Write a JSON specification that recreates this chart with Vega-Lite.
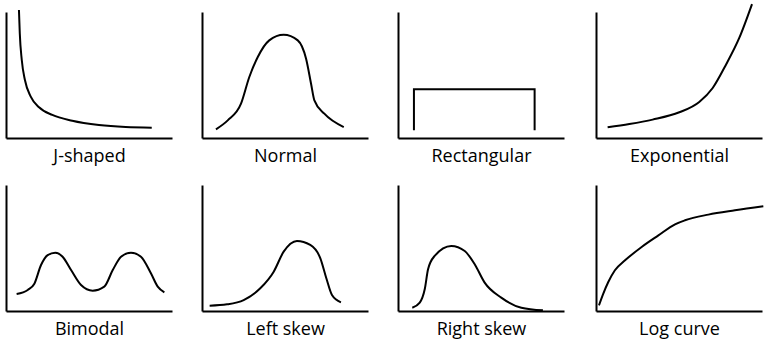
{
  "$schema": "https://vega.github.io/schema/vega-lite/v6.json",
  "padding": {"left": 6, "top": 0, "right": 0, "bottom": 6},
  "background": "white",
  "datasets": {
    "curves": [
      {"shape": "J-shaped", "i": 1, "x": 7.8, "y": 101.6},
      {"shape": "J-shaped", "i": 2, "x": 8.3, "y": 83.1},
      {"shape": "J-shaped", "i": 3, "x": 9.5, "y": 61.9},
      {"shape": "J-shaped", "i": 4, "x": 11.4, "y": 46},
      {"shape": "J-shaped", "i": 5, "x": 14.9, "y": 32.8},
      {"shape": "J-shaped", "i": 6, "x": 19.9, "y": 24.4},
      {"shape": "J-shaped", "i": 7, "x": 27.9, "y": 18.3},
      {"shape": "J-shaped", "i": 8, "x": 39.9, "y": 13.7},
      {"shape": "J-shaped", "i": 9, "x": 56, "y": 10.3},
      {"shape": "J-shaped", "i": 10, "x": 72.1, "y": 8.7},
      {"shape": "J-shaped", "i": 11, "x": 87.8, "y": 8.2},

      {"shape": "Normal", "i": 1, "x": 8.4, "y": 6.9},
      {"shape": "Normal", "i": 2, "x": 15.5, "y": 14},
      {"shape": "Normal", "i": 3, "x": 23.5, "y": 27.2},
      {"shape": "Normal", "i": 4, "x": 28.5, "y": 48.4},
      {"shape": "Normal", "i": 5, "x": 33.6, "y": 64.3},
      {"shape": "Normal", "i": 6, "x": 40.5, "y": 77.5},
      {"shape": "Normal", "i": 7, "x": 49.2, "y": 82},
      {"shape": "Normal", "i": 8, "x": 57.7, "y": 77.5},
      {"shape": "Normal", "i": 9, "x": 62.7, "y": 62.9},
      {"shape": "Normal", "i": 10, "x": 65.7, "y": 43.1},
      {"shape": "Normal", "i": 11, "x": 67.7, "y": 29.9},
      {"shape": "Normal", "i": 12, "x": 73.7, "y": 19.3},
      {"shape": "Normal", "i": 13, "x": 85.4, "y": 8.7},

      {"shape": "Rectangular", "i": 1, "x": 9.6, "y": 6.1},
      {"shape": "Rectangular", "i": 2, "x": 9.6, "y": 38.6},
      {"shape": "Rectangular", "i": 3, "x": 82.3, "y": 38.6},
      {"shape": "Rectangular", "i": 4, "x": 82.3, "y": 6.1},

      {"shape": "Exponential", "i": 1, "x": 7, "y": 8.5},
      {"shape": "Exponential", "i": 2, "x": 20.1, "y": 11.1},
      {"shape": "Exponential", "i": 3, "x": 34.1, "y": 14.6},
      {"shape": "Exponential", "i": 4, "x": 50.2, "y": 20.4},
      {"shape": "Exponential", "i": 5, "x": 62.2, "y": 28.6},
      {"shape": "Exponential", "i": 6, "x": 70.3, "y": 39.7},
      {"shape": "Exponential", "i": 7, "x": 78.3, "y": 58.2},
      {"shape": "Exponential", "i": 8, "x": 86.3, "y": 79.4},
      {"shape": "Exponential", "i": 9, "x": 94, "y": 106.3},

      {"shape": "Bimodal", "i": 1, "x": 6.4, "y": 13.5},
      {"shape": "Bimodal", "i": 2, "x": 13.1, "y": 16.7},
      {"shape": "Bimodal", "i": 3, "x": 17, "y": 21.4},
      {"shape": "Bimodal", "i": 4, "x": 21.1, "y": 36.5},
      {"shape": "Bimodal", "i": 5, "x": 25.1, "y": 44.4},
      {"shape": "Bimodal", "i": 6, "x": 29.7, "y": 46.3},
      {"shape": "Bimodal", "i": 7, "x": 34.1, "y": 43.1},
      {"shape": "Bimodal", "i": 8, "x": 39.2, "y": 32.5},
      {"shape": "Bimodal", "i": 9, "x": 45.2, "y": 20.6},
      {"shape": "Bimodal", "i": 10, "x": 52.2, "y": 16.1},
      {"shape": "Bimodal", "i": 11, "x": 59.2, "y": 19.3},
      {"shape": "Bimodal", "i": 12, "x": 64.3, "y": 32.5},
      {"shape": "Bimodal", "i": 13, "x": 69.3, "y": 43.1},
      {"shape": "Bimodal", "i": 14, "x": 75.3, "y": 46.3},
      {"shape": "Bimodal", "i": 15, "x": 81.3, "y": 43.1},
      {"shape": "Bimodal", "i": 16, "x": 87.3, "y": 29.9},
      {"shape": "Bimodal", "i": 17, "x": 91.4, "y": 19.3},
      {"shape": "Bimodal", "i": 18, "x": 95.4, "y": 14.8},

      {"shape": "Left skew", "i": 1, "x": 4.6, "y": 4.2},
      {"shape": "Left skew", "i": 2, "x": 15.1, "y": 5.3},
      {"shape": "Left skew", "i": 3, "x": 25.1, "y": 8.7},
      {"shape": "Left skew", "i": 4, "x": 35.1, "y": 18},
      {"shape": "Left skew", "i": 5, "x": 43.2, "y": 31.2},
      {"shape": "Left skew", "i": 6, "x": 49.2, "y": 47.1},
      {"shape": "Left skew", "i": 7, "x": 57.2, "y": 55.6},
      {"shape": "Left skew", "i": 8, "x": 65.2, "y": 52.4},
      {"shape": "Left skew", "i": 9, "x": 71.3, "y": 41.8},
      {"shape": "Left skew", "i": 10, "x": 74.9, "y": 26},
      {"shape": "Left skew", "i": 11, "x": 78.3, "y": 12.7},
      {"shape": "Left skew", "i": 12, "x": 83.7, "y": 6.9},

      {"shape": "Right skew", "i": 1, "x": 8.6, "y": 2.6},
      {"shape": "Right skew", "i": 2, "x": 13.1, "y": 6.6},
      {"shape": "Right skew", "i": 3, "x": 16.1, "y": 17.2},
      {"shape": "Right skew", "i": 4, "x": 18.1, "y": 33.1},
      {"shape": "Right skew", "i": 5, "x": 22.1, "y": 43.7},
      {"shape": "Right skew", "i": 6, "x": 32.1, "y": 51.6},
      {"shape": "Right skew", "i": 7, "x": 40.2, "y": 47.6},
      {"shape": "Right skew", "i": 8, "x": 46.2, "y": 37.1},
      {"shape": "Right skew", "i": 9, "x": 52.2, "y": 22.5},
      {"shape": "Right skew", "i": 10, "x": 62.2, "y": 10.6},
      {"shape": "Right skew", "i": 11, "x": 74.3, "y": 2.6},
      {"shape": "Right skew", "i": 12, "x": 87.3, "y": 0.5},

      {"shape": "Log curve", "i": 1, "x": 1.8, "y": 4.5},
      {"shape": "Log curve", "i": 2, "x": 4.4, "y": 13.8},
      {"shape": "Log curve", "i": 3, "x": 7.4, "y": 23},
      {"shape": "Log curve", "i": 4, "x": 11.4, "y": 32.3},
      {"shape": "Log curve", "i": 5, "x": 17.5, "y": 40.2},
      {"shape": "Log curve", "i": 6, "x": 27.5, "y": 50.8},
      {"shape": "Log curve", "i": 7, "x": 37.6, "y": 60},
      {"shape": "Log curve", "i": 8, "x": 47.6, "y": 68.8},
      {"shape": "Log curve", "i": 9, "x": 53.6, "y": 72},
      {"shape": "Log curve", "i": 10, "x": 67.7, "y": 76.5},
      {"shape": "Log curve", "i": 11, "x": 83.7, "y": 79.9},
      {"shape": "Log curve", "i": 12, "x": 100.8, "y": 83.1}
    ]
  },
  "data": {"name": "curves"},
  "columns": 4,
  "spacing": {"row": 20, "column": 30},
  "concat": [
    {"width": 166, "height": 126, "transform": [{"filter": "datum.shape === 'J-shaped'"}],
     "mark": {"type": "line", "interpolate": "monotone", "clip": false, "color": "black", "strokeWidth": 2},
     "encoding": {"x": {"field": "x", "type": "quantitative", "scale": {"domain": [0, 100]}, "axis": {"title": "J-shaped"}},
                  "y": {"field": "y", "type": "quantitative", "scale": {"domain": [0, 100]}, "axis": {"title": null}},
                  "order": {"field": "i"}}},
    {"width": 166, "height": 126, "transform": [{"filter": "datum.shape === 'Normal'"}],
     "mark": {"type": "line", "interpolate": "monotone", "clip": false, "color": "black", "strokeWidth": 2},
     "encoding": {"x": {"field": "x", "type": "quantitative", "scale": {"domain": [0, 100]}, "axis": {"title": "Normal"}},
                  "y": {"field": "y", "type": "quantitative", "scale": {"domain": [0, 100]}, "axis": {"title": null}},
                  "order": {"field": "i"}}},
    {"width": 166, "height": 126, "transform": [{"filter": "datum.shape === 'Rectangular'"}],
     "mark": {"type": "line", "interpolate": "linear", "clip": false, "color": "black", "strokeWidth": 2},
     "encoding": {"x": {"field": "x", "type": "quantitative", "scale": {"domain": [0, 100]}, "axis": {"title": "Rectangular"}},
                  "y": {"field": "y", "type": "quantitative", "scale": {"domain": [0, 100]}, "axis": {"title": null}},
                  "order": {"field": "i"}}},
    {"width": 166, "height": 126, "transform": [{"filter": "datum.shape === 'Exponential'"}],
     "mark": {"type": "line", "interpolate": "monotone", "clip": false, "color": "black", "strokeWidth": 2},
     "encoding": {"x": {"field": "x", "type": "quantitative", "scale": {"domain": [0, 100]}, "axis": {"title": "Exponential"}},
                  "y": {"field": "y", "type": "quantitative", "scale": {"domain": [0, 100]}, "axis": {"title": null}},
                  "order": {"field": "i"}}},
    {"width": 166, "height": 126, "transform": [{"filter": "datum.shape === 'Bimodal'"}],
     "mark": {"type": "line", "interpolate": "monotone", "clip": false, "color": "black", "strokeWidth": 2},
     "encoding": {"x": {"field": "x", "type": "quantitative", "scale": {"domain": [0, 100]}, "axis": {"title": "Bimodal"}},
                  "y": {"field": "y", "type": "quantitative", "scale": {"domain": [0, 100]}, "axis": {"title": null}},
                  "order": {"field": "i"}}},
    {"width": 166, "height": 126, "transform": [{"filter": "datum.shape === 'Left skew'"}],
     "mark": {"type": "line", "interpolate": "monotone", "clip": false, "color": "black", "strokeWidth": 2},
     "encoding": {"x": {"field": "x", "type": "quantitative", "scale": {"domain": [0, 100]}, "axis": {"title": "Left skew"}},
                  "y": {"field": "y", "type": "quantitative", "scale": {"domain": [0, 100]}, "axis": {"title": null}},
                  "order": {"field": "i"}}},
    {"width": 166, "height": 126, "transform": [{"filter": "datum.shape === 'Right skew'"}],
     "mark": {"type": "line", "interpolate": "monotone", "clip": false, "color": "black", "strokeWidth": 2},
     "encoding": {"x": {"field": "x", "type": "quantitative", "scale": {"domain": [0, 100]}, "axis": {"title": "Right skew"}},
                  "y": {"field": "y", "type": "quantitative", "scale": {"domain": [0, 100]}, "axis": {"title": null}},
                  "order": {"field": "i"}}},
    {"width": 166, "height": 126, "transform": [{"filter": "datum.shape === 'Log curve'"}],
     "mark": {"type": "line", "interpolate": "monotone", "clip": false, "color": "black", "strokeWidth": 2},
     "encoding": {"x": {"field": "x", "type": "quantitative", "scale": {"domain": [0, 100]}, "axis": {"title": "Log curve"}},
                  "y": {"field": "y", "type": "quantitative", "scale": {"domain": [0, 100]}, "axis": {"title": null}},
                  "order": {"field": "i"}}}
  ],
  "config": {
    "view": {"stroke": null},
    "axis": {
      "labels": false, "ticks": false, "grid": false,
      "domainColor": "black", "domainWidth": 2,
      "titleFont": "Open Sans", "titleFontSize": 18, "titleFontWeight": "normal",
      "titleColor": "black", "titlePadding": 9
    }
  }
}
